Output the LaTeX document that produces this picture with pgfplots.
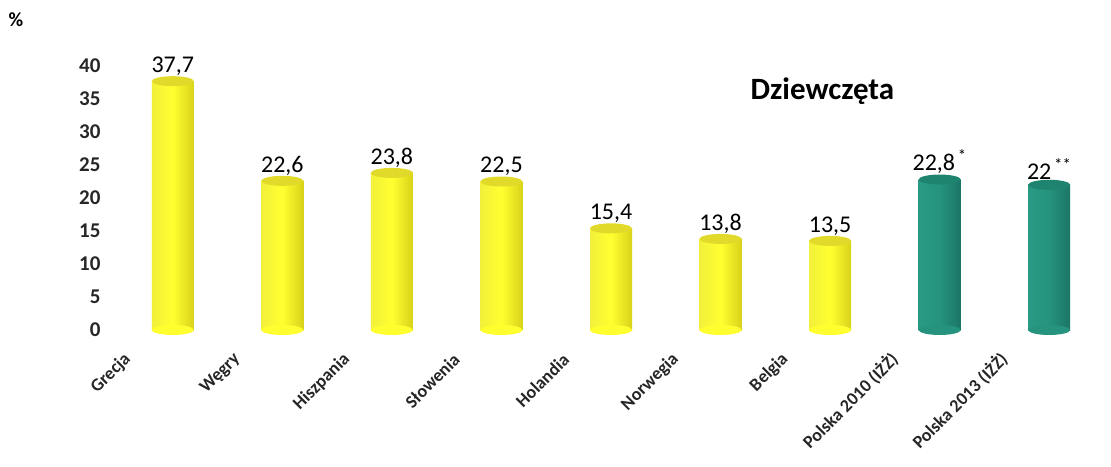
\documentclass[border=0pt]{standalone}
\usepackage{fontspec}
\setmainfont{Carlito}
\usepackage{pgfplots}
\pgfplotsset{compat=1.18}
\definecolor{yelA}{HTML}{F2F03A}
\definecolor{yelB}{HTML}{FFFF30}
\definecolor{yelC}{HTML}{D9D21A}
\definecolor{yelTop}{HTML}{E2DA2A}
\definecolor{tealA}{HTML}{2A9A85}
\definecolor{tealB}{HTML}{25937E}
\definecolor{tealC}{HTML}{1B7565}
\definecolor{tealTop}{HTML}{1E846F}
\pgfdeclareplotmark{cyltop}{\pgfpathellipse{\pgfpointorigin}{\pgfqpoint{21pt}{0pt}}{\pgfqpoint{0pt}{5pt}}\pgfusepathqfill}
\pgfplotsset{
  yelbar/.style={draw=none, left color=yelA, right color=yelC, middle color=yelB},
  tealbar/.style={draw=none, left color=tealA, right color=tealC, middle color=tealB},
}
\begin{document}
\begin{tikzpicture}
\path[use as bounding box] (0pt,0pt) rectangle (1111pt,466pt);
\begin{axis}[
  at={(118pt,136pt)}, anchor=south west,
  scale only axis, width=986pt, height=264pt,
  xmin=-0.5, xmax=8.5, ymin=0, ymax=40,
  clip=false,
  axis line style={draw=none}, major tick style={draw=none},
  ytick={0,5,...,40},
  /pgf/number format/assume math mode=true,
  yticklabel style={font=\bfseries\fontsize{21}{21}\selectfont, text=black!85, xshift=-14pt},
  xtick={0,...,8},
  xticklabels={Grecja, Węgry, Hiszpania, Słowenia, Holandia, Norwegia, Belgia, Polska 2010 (IŻŻ), Polska 2013 (IŻŻ)},
  xticklabel style={font=\bfseries\fontsize{18}{18}\selectfont, text=black!85, rotate=45, anchor=east, xshift=-44pt, yshift=16pt},
  ybar, bar width=42pt, bar shift=0pt,
  point meta=explicit symbolic,
  nodes near coords,
  nodes near coords style={font=\fontsize{24}{24}\selectfont, anchor=south, yshift=2pt, text=black},
]
\addplot[yelbar] coordinates {(0,37.7) [37,7]};
\addplot[yelbar] coordinates {(1,22.6) [22,6]};
\addplot[yelbar] coordinates {(2,23.8) [23,8]};
\addplot[yelbar] coordinates {(3,22.5) [22,5]};
\addplot[yelbar] coordinates {(4,15.4) [15,4]};
\addplot[yelbar] coordinates {(5,13.8) [13,8]};
\addplot[yelbar] coordinates {(6,13.5) [13,5]};
\addplot[tealbar] coordinates {(7,22.8) [22,8\textsuperscript{\,*}]};
\addplot[tealbar] coordinates {(8,22) [22\textsuperscript{\,**}]};
\addplot[only marks, mark=cyltop, mark options={fill=yelTop}, nodes near coords={}]
  coordinates {(0,37.7) (1,22.6) (2,23.8) (3,22.5) (4,15.4) (5,13.8) (6,13.5)};
\addplot[only marks, mark=cyltop, mark options={fill=tealTop}, nodes near coords={}]
  coordinates {(7,22.8) (8,22)};
\addplot[only marks, mark=cyltop, mark options={fill=yelB}, nodes near coords={}]
  coordinates {(0,0) (1,0) (2,0) (3,0) (4,0) (5,0) (6,0)};
\addplot[only marks, mark=cyltop, mark options={fill=tealB}, nodes near coords={}]
  coordinates {(7,0) (8,0)};
\node[font=\bfseries\fontsize{31}{31}\selectfont] at (axis cs:5.93,36.2) {Dziewczęta};
\end{axis}
\node[font=\bfseries\fontsize{20}{20}\selectfont] at (16pt,446pt) {\%};
\end{tikzpicture}
\end{document}
